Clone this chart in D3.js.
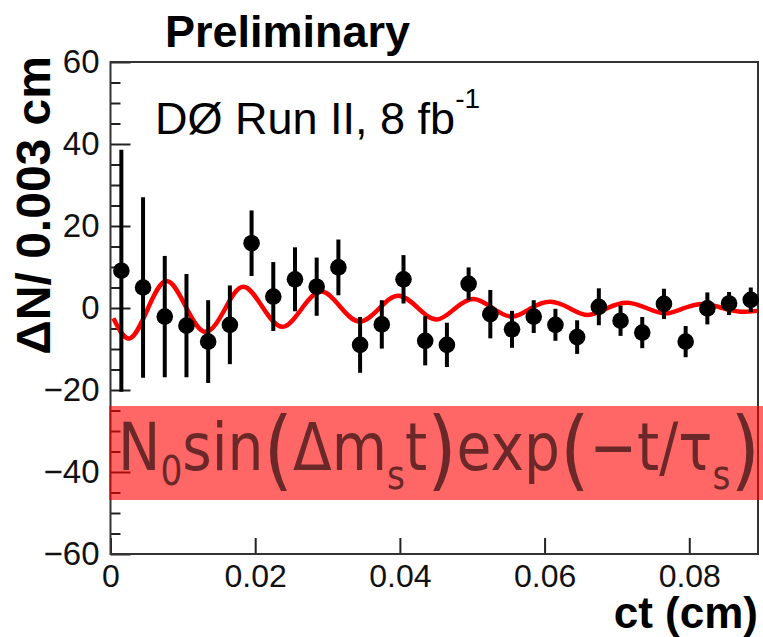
<!DOCTYPE html>
<html lang="en">
<head>
  <meta charset="UTF-8" />
  <title>DØ Run II - ΔN vs ct</title>
  <script src="https://d3js.org/d3.v7.min.js"></script>
  <style>
    body { margin: 0; background: white; }
    svg { font-family: "Liberation Sans", Arial, Helvetica, sans-serif; }
    .axis path { display: none; }
    .axis line { stroke: #222; stroke-width: 2px; }
    .axis text { fill: #111; }
  </style>
</head>
<body>
  <svg id="chart" width="763" height="637"></svg>

  <script>
    // bin centers in cm (0.003 cm bins)
    const ctBins = [0.0015, 0.0045, 0.0075, 0.0105, 0.0135, 0.0165, 0.0195, 0.0225, 0.0255, 0.0285,
                    0.0315, 0.0345, 0.0375, 0.0405, 0.0435, 0.0465, 0.0495, 0.0525, 0.0555, 0.0585,
                    0.0615, 0.0645, 0.0675, 0.0705, 0.0735, 0.0765, 0.0795, 0.0825, 0.0855, 0.0885];
    const deltaN = [9.1, 5.0, -2.1, -4.3, -8.2, -4.1, 15.8, 2.8, 7.0, 5.2,
                    9.9, -9.0, -4.0, 7.0, -8.0, -9.0, 5.9, -1.5, -5.2, -2.1,
                    -4.1, -7.1, 0.3, -3.1, -6.0, 1.0, -8.2, -0.1, 1.1, 2.0];
    const deltaNErr = [29.5, 22.0, 14.8, 12.6, 10.1, 9.6, 8.0, 8.4, 7.8, 7.1,
                       6.8, 6.8, 5.9, 5.9, 6.0, 5.4, 4.0, 5.9, 4.5, 4.0,
                       3.9, 4.1, 4.5, 3.7, 3.8, 3.7, 3.8, 3.9, 2.8, 3.0];

    // fit curve at its extrema and crossings
    const fitCt = [0.0004, 0.0027, 0.0052, 0.0078, 0.0105, 0.0132, 0.0159, 0.0184, 0.0211, 0.0238,
                   0.0265, 0.0292, 0.0319, 0.0345, 0.0372, 0.0398, 0.0425, 0.0451, 0.0477, 0.0502,
                   0.0528, 0.0555, 0.0582, 0.0608, 0.0634, 0.0660, 0.0687, 0.0714, 0.0741, 0.0767,
                   0.0793, 0.0820, 0.0846, 0.0871, 0.0894];
    const fitN = [-2.5, -7.4, 0, 6.6, 0, -5.8, 0, 5.2, 0, -4.6,
                  0, 4.0, 0, -3.3, 0, 3.0, 0, -2.8, 0, 2.2,
                  0, -2.1, 0, 1.5, 0, -1.7, 0, 1.3, 0, -1.3,
                  0, 1.0, 0, -0.9, -0.7];

    const xTicks = [0, 0.02, 0.04, 0.06, 0.08];
    const yTicks = [-60, -40, -20, 0, 20, 40, 60];
    const yMinorTicks = [-55, -50, -45, -35, -30, -25, -15, -10, -5, 5, 10, 15, 25, 30, 35, 45, 50, 55];

    const svg = d3.select("#chart");
    const plotL = 110.5, plotR = 758, plotT = 62, plotB = 554;

    const x = d3.scaleLinear().domain([0, 0.0895]).range([plotL, plotR]);
    const y = d3.scaleLinear().domain([-60, 60]).range([plotB, plotT]);

    svg.append("rect").attr("width", 763).attr("height", 637).attr("fill", "white");

    // minor y ticks
    svg.append("g")
      .attr("class", "axis")
      .attr("transform", `translate(${plotL},0)`)
      .call(d3.axisLeft(y).tickValues(yMinorTicks).tickSizeInner(-10).tickSizeOuter(0).tickFormat(""));

    // major y ticks
    svg.append("g")
      .attr("class", "axis")
      .attr("transform", `translate(${plotL},0)`)
      .call(d3.axisLeft(y).tickValues(yTicks).tickSizeInner(-20).tickSizeOuter(0).tickPadding(11))
      .selectAll("text")
      .style("font-size", "33px");

    // x ticks
    svg.append("g")
      .attr("class", "axis")
      .attr("transform", `translate(0,${plotB})`)
      .call(d3.axisBottom(x).tickValues(xTicks).tickSizeInner(-16).tickSizeOuter(0).tickPadding(10)
        .tickFormat(d => d === 0 ? "0" : d3.format(".2f")(d)))
      .selectAll("text")
      .style("font-size", "32px");

    // frame
    svg.append("rect")
      .attr("x", plotL).attr("y", plotT)
      .attr("width", plotR - plotL).attr("height", plotB - plotT)
      .attr("fill", "none").attr("stroke", "#333").attr("stroke-width", 2);

    // fit curve
    const line = d3.line()
      .x((d, i) => x(fitCt[i]))
      .y(d => y(d))
      .curve(d3.curveNatural);

    svg.append("path")
      .datum(fitN)
      .attr("d", line)
      .attr("fill", "none")
      .attr("stroke", "#ff0000")
      .attr("stroke-width", 4.5);

    // data points with error bars
    const pts = svg.append("g");
    pts.selectAll("line")
      .data(deltaN)
      .join("line")
      .attr("x1", (d, i) => x(ctBins[i]))
      .attr("x2", (d, i) => x(ctBins[i]))
      .attr("y1", (d, i) => y(d - deltaNErr[i]))
      .attr("y2", (d, i) => y(d + deltaNErr[i]))
      .attr("stroke", "black")
      .attr("stroke-width", 4);
    pts.selectAll("circle")
      .data(deltaN)
      .join("circle")
      .attr("cx", (d, i) => x(ctBins[i]))
      .attr("cy", d => y(d))
      .attr("r", 8.3)
      .attr("fill", "black");

    // red band with the fit formula
    svg.append("rect")
      .attr("x", 109).attr("y", 406)
      .attr("width", 763 - 109).attr("height", 94)
      .attr("fill", "#ff0000").attr("opacity", 0.6);

    const formula = svg.append("g");
    const ft = formula.append("text")
      .attr("x", 0)
      .attr("fill", "#6b2828")
      .style("font-family", "'Comic Sans MS', 'DejaVu Sans', sans-serif");
    const parts = [
      ["N", 66, 470], ["0", 40, 485], ["sin", 66, 470], ["(", 88, 479],
      ["Δm", 66, 470], ["s", 40, 489], ["t", 66, 470], [")", 88, 479],
      ["exp", 66, 470], ["(", 88, 479], ["\u2212t/τ", 66, 470], ["s", 40, 489], [")", 88, 479]
    ];
    parts.forEach(([t, fs, yy]) => {
      ft.append("tspan").attr("y", yy).style("font-size", fs + "px").text(t);
    });
    const bb = ft.node().getBBox();
    const sx = 642 / bb.width;
    formula.attr("transform", `translate(${118 - bb.x * sx},0) scale(${sx},1)`);

    // labels
    svg.append("text")
      .attr("x", 165).attr("y", 47)
      .style("font-size", "45px").style("font-weight", "bold")
      .text("Preliminary");

    const lumi = svg.append("text")
      .attr("x", 155).attr("y", 134)
      .style("font-size", "45px")
      .text("DØ Run II, 8 fb");
    lumi.append("tspan")
      .attr("dy", -26).style("font-size", "28px")
      .text("-1");

    svg.append("text")
      .attr("transform", "translate(50,56) rotate(-90)")
      .attr("text-anchor", "end")
      .style("font-size", "48px").style("font-weight", "bold")
      .text("ΔN/ 0.003 cm");

    svg.append("text")
      .attr("x", 758).attr("y", 628)
      .attr("text-anchor", "end")
      .style("font-size", "44px").style("font-weight", "bold")
      .text("ct (cm)");
  </script>
</body>
</html>
